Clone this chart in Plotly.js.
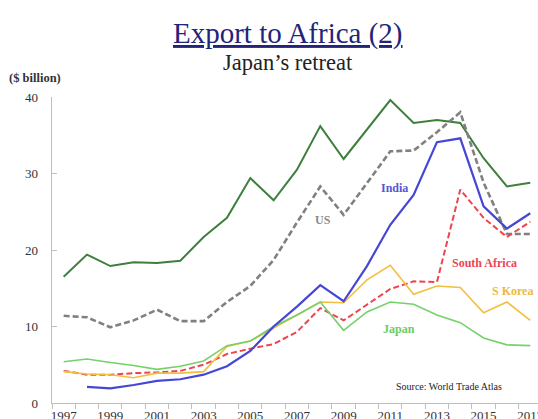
<!DOCTYPE html>
<html>
<head>
<meta charset="utf-8">
<script src="https://cdn.plot.ly/plotly-3.0.1.min.js"></script>
<style>html,body{margin:0;padding:0;background:#fff;}#chart{width:538px;height:419px;}</style>
</head>
<body>
<div id="chart"></div>
<script>
const years = [1997,1998,1999,2000,2001,2002,2003,2004,2005,2006,2007,2008,2009,2010,2011,2012,2013,2014,2015,2016,2017];
const tickYears = [1997,1999,2001,2003,2005,2007,2009,2011,2013,2015,2017];
const tickLabels = ["1997","1999","2001","2003","2005","2007","2009","2011","2013","2015","2017"];
const france = [16.5,19.4,17.9,18.4,18.3,18.6,21.7,24.2,29.4,26.5,30.5,36.2,31.9,35.7,39.6,36.6,37.0,36.6,32.0,28.3,28.8];
const us = [11.4,11.2,9.9,10.8,12.2,10.7,10.7,13.2,15.3,18.7,23.6,28.3,24.6,28.7,32.9,33.0,35.4,38.0,28.8,22.1,22.1];
const india = [null,2.1,1.9,2.35,2.9,3.1,3.7,4.8,6.8,10.0,12.6,15.4,13.3,17.9,23.3,27.2,34.1,34.6,25.7,22.8,24.8];
const southAfrica = [4.2,3.7,3.7,3.9,4.0,4.2,5.0,6.4,7.1,7.7,9.3,12.4,10.8,12.8,14.9,15.9,15.8,27.9,24.2,21.7,23.7];
const sKorea = [4.1,3.8,3.7,3.3,3.9,3.9,4.1,7.4,8.1,9.8,11.5,13.2,13.1,16.1,18.0,14.2,15.3,15.1,11.8,13.2,10.8];
const japan = [5.4,5.75,5.3,4.9,4.4,4.8,5.5,7.5,8.1,10.0,11.5,13.2,9.5,11.9,13.2,12.9,11.5,10.5,8.5,7.6,7.5];

const serif = "'Liberation Serif', 'Times New Roman', serif";
const col = {france:"#3E7F3E", us:"#808080", india:"#4646D6", sa:"#EE4452", korea:"#F3BF3E", japan:"#76D16B"};

function tr(y, color, width, dash){
  return {x: years, y: y, type:'scatter', mode:'lines', line:{color:color, width:width, dash:dash||'solid'}, hoverinfo:'skip', showlegend:false, connectgaps:false};
}
const data = [
  tr(france, col.france, 2),
  tr(us, col.us, 2.6, '6px,3px'),
  tr(southAfrica, col.sa, 2, '6px,3px'),
  tr(sKorea, col.korea, 1.6),
  tr(japan, col.japan, 1.6),
  tr(india, col.india, 2.2)
];

const W = 486, H = 306, L = 52, T = 97;
function px(x){ return (x - L)/W; }
function py(y){ return (T + H - y)/H; }

const annotations = [
  {text:'<u>Export to Africa (2)</u>', xref:'paper', yref:'paper', x:px(288), y:py(33), showarrow:false, font:{family:serif, size:29, color:'#232379'}, xanchor:'center', yanchor:'middle'},
  {text:'Japan\u2019s retreat', xref:'paper', yref:'paper', x:px(288), y:py(63), showarrow:false, font:{family:serif, size:22.5, color:'#222'}, xanchor:'center', yanchor:'middle'},
  {text:'<b>($ billion)</b>', xref:'paper', yref:'paper', x:px(34.5), y:py(78), showarrow:false, font:{family:serif, size:12.5, color:'#333'}, xanchor:'center', yanchor:'middle'},
  {text:'<b>France</b>', x:2010.93, y:41.2, showarrow:false, font:{family:serif, size:12, color:col.france}},
  {text:'<b>US</b>', x:2008.1, y:23.9, showarrow:false, font:{family:serif, size:12, color:'#8a8a8a'}},
  {text:'<b>India</b>', x:2011.19, y:28.1, showarrow:false, font:{family:serif, size:12, color:'#5555D8'}},
  {text:'<b>South Africa</b>', x:2015.05, y:18.3, showarrow:false, font:{family:serif, size:12, color:col.sa}},
  {text:'<b>S Korea</b>', x:2016.25, y:14.6, showarrow:false, font:{family:serif, size:12, color:'#EDB93A'}},
  {text:'<b>Japan</b>', x:2011.38, y:9.7, showarrow:false, font:{family:serif, size:12, color:'#6CCB62'}},
  {text:'Source: World Trade Atlas', x:2013.5, y:2.1, showarrow:false, font:{family:serif, size:10, color:'#222'}}
];

const layout = {
  width:538, height:419,
  margin:{l:L, r:0, t:T, b:16, pad:0},
  paper_bgcolor:'#fff', plot_bgcolor:'#fff',
  showlegend:false,
  xaxis:{
    range:[1996.5, 1996.5 + W/23.33],
    tickmode:'array', tickvals:tickYears, ticktext:tickLabels,
    ticks:'', showgrid:false, zeroline:false,
    showline:true, linecolor:'#BFBFBF', linewidth:1.3,
    tickfont:{family:serif, size:13, color:'#333'},
    ticklabeloverflow:'allow',
    minor:{tick0:1996.5, dtick:1, ticks:'outside', ticklen:5, tickcolor:'#BFBFBF', tickwidth:1, showgrid:false}
  },
  yaxis:{
    range:[0,40], tickvals:[0,10,20,30,40], ticktext:['0','10','20','30','40'],
    ticks:'inside', ticklen:5, tickcolor:'#BFBFBF',
    showgrid:false, zeroline:false,
    showline:true, linecolor:'#BFBFBF', linewidth:1.3,
    tickfont:{family:serif, size:13, color:'#333'},
    ticklabelstandoff:10
  },
  annotations:annotations
};

Plotly.newPlot('chart', data, layout, {staticPlot:true, displayModeBar:false});
</script>
</body>
</html>
